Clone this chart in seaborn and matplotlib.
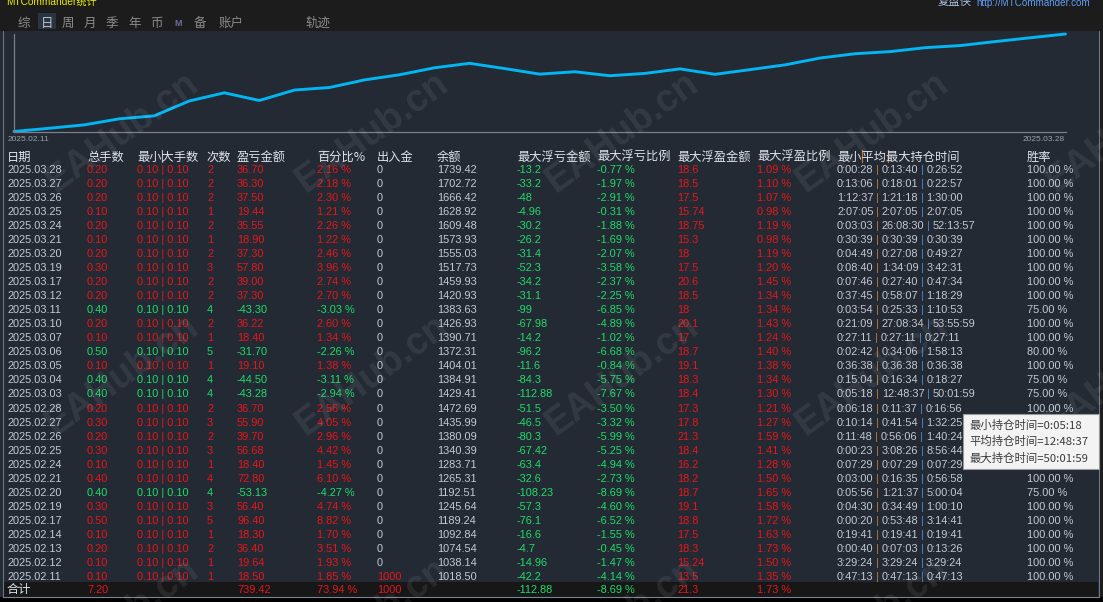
import numpy as np
import pandas as pd
import matplotlib
matplotlib.use("Agg")
import matplotlib.pyplot as plt
import seaborn as sns
from matplotlib.patches import Rectangle
from matplotlib.ticker import NullLocator

# ---------------- data ----------------
dates = ['2025.03.28', '2025.03.27', '2025.03.26', '2025.03.25', '2025.03.24', '2025.03.21',
         '2025.03.20', '2025.03.19', '2025.03.17', '2025.03.12', '2025.03.11', '2025.03.10',
         '2025.03.07', '2025.03.06', '2025.03.05', '2025.03.04', '2025.03.03', '2025.02.28',
         '2025.02.27', '2025.02.26', '2025.02.25', '2025.02.24', '2025.02.21', '2025.02.20',
         '2025.02.19', '2025.02.17', '2025.02.14', '2025.02.13', '2025.02.12', '2025.02.11']
lots = [0.20, 0.20, 0.20, 0.10, 0.20, 0.10, 0.20, 0.30, 0.20, 0.20, 0.40, 0.20, 0.10, 0.50, 0.10,
        0.40, 0.40, 0.20, 0.30, 0.20, 0.30, 0.10, 0.40, 0.40, 0.30, 0.50, 0.10, 0.20, 0.10, 0.10]
min_lot = [0.10] * 30
max_lot = [0.10] * 30
trades = [2, 2, 2, 1, 2, 1, 2, 3, 2, 2, 4, 2, 1, 5, 1, 4, 4, 2, 3, 2, 3, 1, 4, 4, 3, 5, 1, 2, 1, 1]
pnl = [36.70, 36.30, 37.50, 19.44, 35.55, 18.90, 37.30, 57.80, 39.00, 37.30, -43.30, 36.22, 18.40,
       -31.70, 19.10, -44.50, -43.28, 36.70, 55.90, 39.70, 56.68, 18.40, 72.80, -53.13, 56.40,
       96.40, 18.30, 36.40, 19.64, 18.50]
pct = [2.16, 2.18, 2.30, 1.21, 2.26, 1.22, 2.46, 3.96, 2.74, 2.70, -3.03, 2.60, 1.34, -2.26, 1.38,
       -3.11, -2.94, 2.56, 4.05, 2.96, 4.42, 1.45, 6.10, -4.27, 4.74, 8.82, 1.70, 3.51, 1.93, 1.85]
deposit = [0] * 29 + [1000]
balance = [1739.42, 1702.72, 1666.42, 1628.92, 1609.48, 1573.93, 1555.03, 1517.73, 1459.93,
           1420.93, 1383.63, 1426.93, 1390.71, 1372.31, 1404.01, 1384.91, 1429.41, 1472.69,
           1435.99, 1380.09, 1340.39, 1283.71, 1265.31, 1192.51, 1245.64, 1189.24, 1092.84,
           1074.54, 1038.14, 1018.50]
float_loss = [-13.2, -33.2, -48, -4.96, -30.2, -26.2, -31.4, -52.3, -34.2, -31.1, -99, -67.98,
              -14.2, -96.2, -11.6, -84.3, -112.88, -51.5, -46.5, -80.3, -67.42, -63.4, -32.6,
              -108.23, -57.3, -76.1, -16.6, -4.7, -14.96, -42.2]
float_loss_pct = [-0.77, -1.97, -2.91, -0.31, -1.88, -1.69, -2.07, -3.58, -2.37, -2.25, -6.85,
                  -4.89, -1.02, -6.68, -0.84, -5.75, -7.67, -3.50, -3.32, -5.99, -5.25, -4.94,
                  -2.73, -8.69, -4.60, -6.52, -1.55, -0.45, -1.47, -4.14]
float_profit = [18.6, 18.5, 17.5, 15.74, 18.75, 15.3, 18, 17.5, 20.6, 18.5, 18, 20.1, 17, 18.7,
                19.1, 18.3, 18.4, 17.3, 17.8, 21.3, 18.4, 16.2, 18.2, 18.7, 19.1, 18.8, 17.5,
                18.3, 15.24, 13.5]
float_profit_pct = [1.09, 1.10, 1.07, 0.98, 1.19, 0.98, 1.19, 1.20, 1.45, 1.34, 1.34, 1.43, 1.24,
                    1.40, 1.38, 1.34, 1.30, 1.21, 1.27, 1.59, 1.41, 1.28, 1.50, 1.65, 1.58, 1.72,
                    1.63, 1.73, 1.50, 1.35]
hold_min = ['0:00:28', '0:13:06', '1:12:37', '2:07:05', '0:03:03', '0:30:39', '0:04:49', '0:08:40',
            '0:07:46', '0:37:45', '0:03:54', '0:21:09', '0:27:11', '0:02:42', '0:36:38', '0:15:04',
            '0:05:18', '0:06:18', '0:10:14', '0:11:48', '0:00:23', '0:07:29', '0:03:00', '0:05:56',
            '0:04:30', '0:00:20', '0:19:41', '0:00:40', '3:29:24', '0:47:13']
hold_avg = ['0:13:40', '0:18:01', '1:21:18', '2:07:05', '26:08:30', '0:30:39', '0:27:08', '1:34:09',
            '0:27:40', '0:58:07', '0:25:33', '27:08:34', '0:27:11', '0:34:06', '0:36:38', '0:16:34',
            '12:48:37', '0:11:37', '0:41:54', '0:56:06', '3:08:26', '0:07:29', '0:16:35', '1:21:37',
            '0:34:49', '0:53:48', '0:19:41', '0:07:03', '3:29:24', '0:47:13']
hold_max = ['0:26:52', '0:22:57', '1:30:00', '2:07:05', '52:13:57', '0:30:39', '0:49:27', '3:42:31',
            '0:47:34', '1:18:29', '1:10:53', '53:55:59', '0:27:11', '1:58:13', '0:36:38', '0:18:27',
            '50:01:59', '0:16:56', '1:32:25', '1:40:24', '8:56:44', '0:07:29', '0:56:58', '5:00:04',
            '1:00:10', '3:14:41', '0:19:41', '0:13:26', '3:29:24', '0:47:13']
# None = hidden under the tooltip in the source screenshot
win_rate = [100, 100, 100, 100, 100, 100, 100, 100, 100, 100, 75, 100, 100, 80, 100, 75, 75, 100,
            None, None, None, None, 100, 75, 100, 100, 100, 100, 100, 100]

headers = ['日期', '总手数', '最小大手数', '次数', '盈亏金额', '百分比%', '出入金', '余额',
           '最大浮亏金额', '最大浮亏比例', '最大浮盈金额', '最大浮盈比例', '最小平均最大持仓时间', '胜率']
tabs = ['综', '日', '周', '月', '季', '年', '币', 'M', '备', '账户', '轨迹']
tooltip_lines = ['最小持仓时间=0:05:18', '平均持仓时间=12:48:37', '最大持仓时间=50:01:59']

# ---------------- style ----------------
sns.set_theme(style="dark")
LAT = ['Liberation Sans', 'Noto Sans CJK SC', 'DejaVu Sans']
CJK = ['Noto Sans CJK SC', 'DejaVu Sans']
plt.rcParams['font.family'] = LAT

RED = '#e8161b'
GREEN = '#1fdc6a'
LIGHT = '#c3cad4'
HEAD = '#dde3ea'
PANEL = '#232a33'
DFS = 7.9   # data font size
HFS = 8.8   # header font size

W, H = 1103, 602
fig = plt.figure(figsize=(W / 100, H / 100), dpi=100)
fig.patch.set_facecolor('#000000')

bg = fig.add_axes([0, 0, 1, 1])
bg.set_xlim(0, W)
bg.set_ylim(H, 0)
bg.axis('off')

# panels
bg.add_patch(Rectangle((0, 0), W, 31, fc='#1c1c1c', ec='none'))
bg.add_patch(Rectangle((0, 31), 1099, 566, fc=PANEL, ec='none'))
bg.add_patch(Rectangle((1099, 31), W - 1099, 566, fc='#1c1c1c', ec='none'))
bg.add_patch(Rectangle((3, 582), 1095, 14.5, fc='#171717', ec='none'))
bg.plot([2.5, 2.5], [31, 597], color='#6c7584', lw=0.8)
bg.plot([1098.5, 1098.5], [31, 597], color='#6c7584', lw=0.8)
bg.plot([2.5, 1098.5], [597, 597], color='#7a8494', lw=0.8)

# title bar
bg.text(6, 5, 'MTCommander统计', color='#eded00', fontsize=7.3, va='baseline', family=LAT)
t1 = bg.text(938, 5.5, '复盘侠', color='#a9c4e4', fontsize=8.2, va='baseline', family=CJK)
bg.annotate('http://MTCommander.com', xy=(1, 0), xycoords=t1, xytext=(3, 0),
            textcoords='offset points', va='bottom', color='#5f9ef5', fontsize=7.1, family=LAT)

# tabs
tab_x = [17.5, 41, 62, 84, 106, 128, 150, 174, 194, 218.5, 305]
bg.add_patch(Rectangle((38, 13), 17.5, 16, fc='#2b3541', ec='none'))
for tx, tt in zip(tab_x, tabs):
    if tt == 'M':
        bg.text(tx, 26, tt, color='#6f6a9c', fontsize=6.5, weight='bold', va='baseline', family=LAT)
    else:
        bg.text(tx, 26.5, tt, color='#bcc6d2' if tt == '日' else '#8c8c8c', fontsize=9,
                va='baseline', family=CJK)

# ---------------- equity chart ----------------
curve = [sum(deposit)] + list(reversed(balance))
steps = np.arange(len(curve))
df_curve = pd.DataFrame({'step': steps, 'balance': curve})

ax = fig.add_axes([14 / W, 1 - 131.5 / H, (1065.5 - 14) / W, (131.5 - 34) / H])
ax.set_facecolor('none')
sns.lineplot(data=df_curve, x='step', y='balance', ax=ax, color='#03b5f2', linewidth=2.1,
             clip_on=False)
ax.set_yscale('log')
ax.set_xlim(steps.min(), steps.max())
ax.set_ylim(min(curve), max(curve))
ax.set_xticks([])
ax.set_yticks([])
ax.yaxis.set_minor_locator(NullLocator())
ax.xaxis.set_minor_locator(NullLocator())
ax.set_xlabel('')
ax.set_ylabel('')
ax.grid(False)
for s in ['top', 'right']:
    ax.spines[s].set_visible(False)
for s in ['left', 'bottom']:
    ax.spines[s].set_visible(True)
    ax.spines[s].set_color('#7b8088')
    ax.spines[s].set_linewidth(0.9)

chron = list(reversed(dates))
bg.text(8, 141, chron[0], color='#9ba1a8', fontsize=6, va='baseline', family=LAT)
bg.text(1065, 141, chron[-1], color='#9ba1a8', fontsize=6, va='baseline', ha='right', family=LAT)

# ---------------- table ----------------
col_x = [7, 87, 137, 207, 237, 317, 377, 437, 517, 597, 677, 757, 837, 1027]
head_base = 160.5
for cx, h in zip(col_x, headers):
    bg.text(cx, head_base, h, color=HEAD, fontsize=HFS, va='baseline', family=CJK)
# thin separators in headers
bg.plot([161.5, 161.5], [150, 162], color='#b9bfc7', lw=0.8)
for sx in (861.5, 887.5):
    bg.plot([sx, sx], [150, 162], color='#c27a2c', lw=0.9)

ROW0, DY = 169.0, 14.03


def chain(x, y, parts, fs=DFS, gap=1.9):
    t = bg.text(x, y, parts[0][0], color=parts[0][1], fontsize=fs, va='baseline', family=LAT)
    prev = t
    for s, c in parts[1:]:
        prev = bg.annotate(s, xy=(1, 0), xycoords=prev, xytext=(gap, 0),
                           textcoords='offset points', va='bottom', color=c,
                           fontsize=fs, family=LAT)


for i in range(len(dates)):
    yb = ROW0 + i * DY + 4
    c = RED if pnl[i] >= 0 else GREEN
    vals = [
        (dates[i], LIGHT),
        (f'{lots[i]:.2f}', c),
        (f'{min_lot[i]:.2f} | {max_lot[i]:.2f}', c),
        (f'{trades[i]}', c),
        (f'{pnl[i]:.2f}', c),
        (f'{pct[i]:.2f} %', c),
        (f'{deposit[i]}', RED if deposit[i] > 0 else LIGHT),
        (f'{balance[i]:.2f}', LIGHT),
        (f'{float_loss[i]:g}', GREEN),
        (f'{float_loss_pct[i]:.2f} %', GREEN),
        (f'{float_profit[i]:g}', RED),
        (f'{float_profit_pct[i]:.2f} %', RED),
    ]
    for cx, (s, col) in zip(col_x[:12], vals):
        bg.text(cx, yb, s, color=col, fontsize=DFS, va='baseline', family=LAT)
    chain(col_x[12], yb, [(hold_min[i], LIGHT), ('|', '#b87a3a'), (hold_avg[i], LIGHT),
                          ('|', '#4f86c6'), (hold_max[i], LIGHT)])
    if win_rate[i] is not None:
        bg.text(col_x[13], yb, f'{win_rate[i]:.2f} %', color=LIGHT, fontsize=DFS,
                va='baseline', family=LAT)

# totals row
tb = 593
tot_dep = sum(deposit)
tot_pnl = sum(pnl)
bg.text(7, tb + 0.5, '合计', color=HEAD, fontsize=HFS, va='baseline', family=CJK)
tot_vals = [
    (87, f'{sum(lots):.2f}', RED),
    (237, f'{tot_pnl:.2f}', RED),
    (317, f'{tot_pnl / tot_dep * 100:.2f} %', RED),
    (377, f'{tot_dep}', RED),
    (517, f'{min(float_loss):g}', GREEN),
    (597, f'{min(float_loss_pct):.2f} %', GREEN),
    (677, f'{max(float_profit):g}', RED),
    (757, f'{max(float_profit_pct):.2f} %', RED),
]
for cx, s, col in tot_vals:
    bg.text(cx, tb, s, color=col, fontsize=DFS, va='baseline', family=LAT)

# ---------------- overlay: watermark + tooltip ----------------
top = fig.add_axes([0, 0, 1, 1], zorder=10)
top.set_xlim(0, W)
top.set_ylim(H, 0)
top.axis('off')
top.patch.set_alpha(0)
for yc in (132, 375, 618):
    for x0 in (50, 300, 550, 800, 1050):
        top.text(x0 + 72, yc, 'EAHub.cn', color='white', alpha=0.08, fontsize=27,
                 weight='bold', rotation=36, ha='center', va='center',
                 rotation_mode='anchor', family=LAT)

top.add_patch(Rectangle((963, 414), 135.5, 55, fc='#f3f3f3', ec='#9a9a9a', lw=0.8, zorder=20))
for k, line in enumerate(tooltip_lines):
    top.text(969, 428.5 + k * 16.8, line, color='#3c3c3c', fontsize=8.2, va='baseline',
             family=CJK, zorder=21)

fig.savefig('out.png', dpi=100, facecolor=fig.get_facecolor())
